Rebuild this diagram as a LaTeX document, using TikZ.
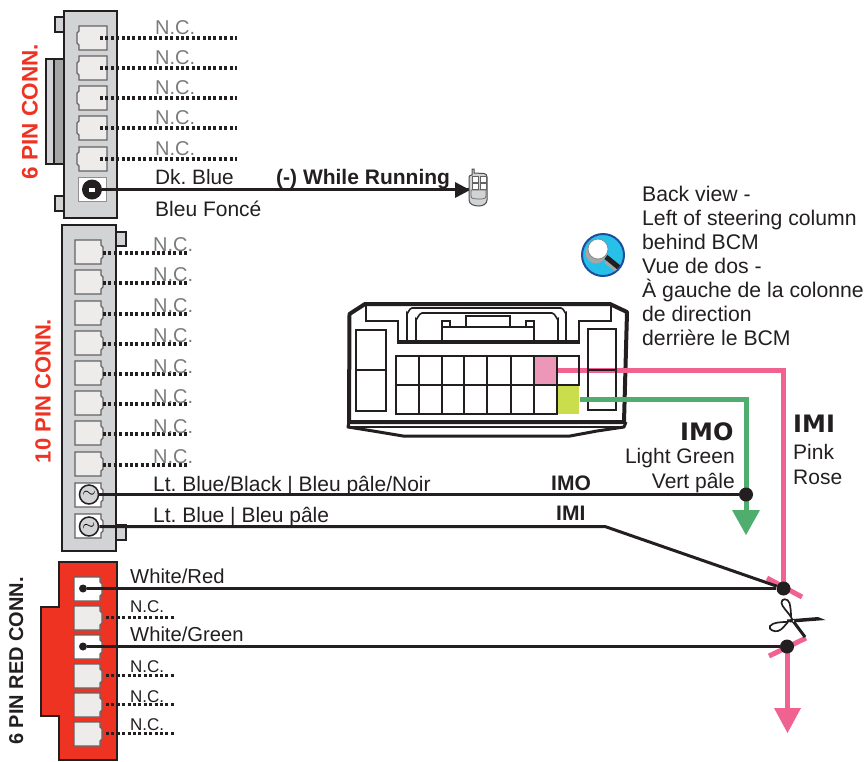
\documentclass[tikz,border=0pt]{standalone}
\usepackage{fontspec}
\setmainfont{Liberation Sans}
\newfontfamily\heavyfont{DejaVu Sans}
\frenchspacing
\definecolor{conngray}{HTML}{D1D3D4}
\definecolor{pingray}{HTML}{EDECEA}
\definecolor{ncgray}{HTML}{7A7C7C}
\definecolor{connred}{HTML}{EF3323}
\definecolor{wirepink}{HTML}{F0628F}
\definecolor{wiregreen}{HTML}{4FAE6E}
\definecolor{inkk}{HTML}{231F20}
\definecolor{pinkcell}{HTML}{EC97B8}
\definecolor{limecell}{HTML}{CADD4C}
\tikzset{
  x=1pt,y=-1pt,
  ink/.style={draw=inkk,line width=1.5pt},
  wire/.style={draw=inkk,line width=3pt},
  ncwire/.style={draw=inkk,line width=3.2pt,dash pattern=on 3pt off 2.4pt},
  pinkw/.style={draw=wirepink,line width=5pt},
  greenw/.style={draw=wiregreen,line width=5pt},
  lbl/.style={anchor=base west,inner sep=0pt,font=\fontsize{20.8}{24}\selectfont,text=inkk},
  lblb/.style={anchor=base west,inner sep=0pt,font=\fontsize{21}{24}\selectfont,text=inkk},
  nc/.style={anchor=base west,inner sep=0pt,font=\fontsize{20}{24}\selectfont,text=ncgray},
  ncs/.style={anchor=base west,inner sep=0pt,font=\fontsize{17}{20}\selectfont,text=inkk},
  boldl/.style={anchor=base west,inner sep=0pt,font=\fontsize{21}{24}\selectfont\bfseries,text=inkk},
  heavy/.style={anchor=base west,inner sep=0pt,font=\heavyfont\fontsize{24}{26}\selectfont\bfseries,text=inkk},
  dotn/.style={circle,fill=inkk,inner sep=0pt,minimum size=14pt},
  cline/.style={draw=inkk,line width=1.6pt},
  pics/pinR/.style={code={\draw[draw=inkk!70,line width=1.2pt,fill=#1] (-14,-12)--(12,-12)--(12,-7)--(14,-5)--(14,5)--(12,7)--(12,12)--(-14,12)--cycle;}},
  pics/pinL/.style={code={\draw[draw=inkk!70,line width=1.2pt,fill=#1] (15,-12)--(-13,-12)--(-13,-7)--(-15,-5)--(-15,5)--(-13,7)--(-13,12)--(15,12)--cycle;}},
}
\begin{document}
\begin{tikzpicture}
\useasboundingbox (0,0) rectangle (866,761);
% ---------- 6 PIN CONN
\draw[ink,fill=conngray] (46,59) rectangle (54,164);
\draw[ink,fill=black!35] (54,59) rectangle (64,164);
\draw[ink,fill=conngray] (55,17) rectangle (64,32);
\draw[ink,fill=conngray] (55,196) rectangle (64,211);
\draw[draw=inkk,line width=2pt,fill=conngray] (64,11) rectangle (117,218);
\foreach \i/\y in {1/38,2/68,3/98,4/128,5/159}{
  \pic at (92,\y) {pinL=pingray};
  \coordinate (a\i) at (100,\y);
  \coordinate (ae\i) at (237,\y);
  \draw[ncwire] (a\i) -- (ae\i);
  \node[nc] (anc\i) at (155,\y-4) {N.C.};
}
\draw[draw=inkk!50,line width=1pt,fill=white] (78,177) rectangle (106,201);
\node[circle,fill=inkk,inner sep=0pt,minimum size=20pt] (a6) at (92,189.5) {};
\fill[white] (89,188) rectangle (95,192);
\node[lbl] (dkblue) at (155,184) {Dk. Blue};
\node[lblb] (bleuf) at (155,216) {Bleu Foncé};
\node[boldl] (running) at (276,184) {(-) While Running};
\node[rotate=90,anchor=base,inner sep=0pt,font=\fontsize{22.5}{24}\selectfont\bfseries,text=connred] (t6) at (37.5,111.5) {6 PIN CONN.};
% remote
\coordinate (remote) at (469,189.5);
\draw[wire] (a6) -- (remote);
\fill[inkk] (455,182) -- (470,190) -- (455,198) -- cycle;
\draw[draw=inkk!80,line width=1pt,fill=conngray] (472,175) -- (472,169) -- (474,169) -- (474,173) -- (484,173.5) to[out=0,in=90] (487,177) -- (487,200) to[out=-90,in=0] (479,206) to[out=180,in=-90] (469,200) -- (469,177) to[out=90,in=180] (472,175) -- cycle;
\draw[draw=inkk!70,line width=.7pt,fill=white] (472,176) rectangle (478,182) (480,176) rectangle (486,182) (472,183) rectangle (478,189) (480,183) rectangle (486,189);
\draw[draw=inkk!70,line width=.7pt] (471,190) -- (486,190) -- (486,196) to[out=-90,in=0] (478,199) to[out=180,in=-90] (471,196) -- cycle;
% ---------- 10 PIN CONN
\draw[ink,fill=conngray] (116,232) rectangle (126,246);
\draw[ink,fill=conngray] (116,525) rectangle (126,540);
\draw[draw=inkk,line width=2pt,fill=conngray] (62,225) rectangle (116,551);
\foreach \i/\y/\b in {1/253/251,2/283/281,3/314/312,4/344/342,5/374/373,6/404/403,7/434/433,8/465/463}{
  \pic at (89,\y-1) {pinR=pingray};
  \coordinate (b\i) at (103,\y);
  \coordinate (be\i) at (187,\y);
  \draw[ncwire] (b\i) -- (be\i);
  \node[nc] (bnc\i) at (153,\b) {N.C.};
}
\pic at (89,495) {pinR=white};
\pic at (89,526) {pinR=white};
\node[circle,draw=inkk,line width=1.5pt,fill=conngray,minimum size=19pt,inner sep=0pt,font=\fontsize{17}{17}\selectfont] (b9) at (89,494.5) {$\sim$};
\node[circle,draw=inkk,line width=1.5pt,fill=conngray,minimum size=19pt,inner sep=0pt,font=\fontsize{17}{17}\selectfont] (b10) at (89,526.5) {\rotatebox{12}{$\sim$}};
\node[lbl,font=\fontsize{21}{24}\selectfont] (ltbb) at (153,491) {Lt. Blue/Black | Bleu pâle/Noir};
\node[lbl,font=\fontsize{21}{24}\selectfont] (ltb) at (153,522) {Lt. Blue | Bleu pâle};
\node[rotate=90,anchor=base,inner sep=0pt,font=\fontsize{22}{24}\selectfont\bfseries,text=connred] (t10) at (50.5,391) {10 PIN CONN.};
% ---------- 6 PIN RED
\draw[draw=inkk,line width=2pt,fill=connred] (59,562) -- (117,562) -- (117,760) -- (59,760) -- (59,716) -- (41,716) -- (41,607) -- (59,607) -- cycle;
\pic at (88,589) {pinR=white};
\pic at (88,647) {pinR=white};
\node[circle,fill=inkk,inner sep=0pt,minimum size=8pt] (c1) at (83,588.5) {};
\node[circle,fill=inkk,inner sep=0pt,minimum size=8pt] (c3) at (83,646.5) {};
\foreach \i/\y/\b in {2/618/612,4/676/672,5/705/702,6/734/730}{
  \pic at (88,\y) {pinR=pingray};
  \coordinate (c\i) at (106,\y-.5);
  \coordinate (ce\i) at (174,\y-.5);
  \draw[ncwire] (c\i) -- (ce\i);
  \node[ncs] (cnc\i) at (130,\b) {N.C.};
}
\node[lbl,font=\fontsize{20.2}{24}\selectfont] (wr) at (130,583) {White/Red};
\node[lbl,font=\fontsize{20.2}{24}\selectfont] (wg) at (130,641) {White/Green};
\node[rotate=90,anchor=base,inner sep=0pt,font=\fontsize{20}{24}\selectfont\bfseries,text=inkk] (t6r) at (23,661) {6 PIN RED CONN.};
% ---------- vehicle connector
\draw[draw=inkk,line width=4pt,line join=round] (349.5,314) -- (365,304) -- (610,304) -- (627,312) -- (624,422) -- (349,422) -- cycle;
\draw[draw=inkk,line width=3pt,line join=round] (349,422) -- (348,427) -- (373,431) -- (403,436) -- (570,436) -- (597,431) -- (624,427) -- (626,422);
\draw[draw=inkk,line width=2.5pt] (349,427) -- (625,427);
\draw[cline] (366,306) -- (366,321) -- (398,321) -- (398,342);
\draw[cline] (611,306) -- (611,321) -- (579,321) -- (579,342);
\draw[draw=inkk,line width=3.5pt] (397,342) -- (580,342);
\draw[cline] (407,341) -- (407,313) to[out=-90,in=180] (412,308) -- (561,308) to[out=0,in=-90] (566,313) -- (566,341);
\draw[cline] (416,341) -- (416,319) to[out=-90,in=180] (422,313) -- (552,313) to[out=0,in=-90] (558,319) -- (558,341);
\draw[cline] (442,341) -- (442,327) -- (534,327) -- (534,341);
\draw[cline] (442,321) rectangle (450,327);
\draw[cline] (526,321) rectangle (534,327);
\draw[cline] (466,316) rectangle (510,327);
\fill[pinkcell] (534,356) rectangle (557,385);
\fill[limecell] (557,385) rectangle (579,414);
\draw[pinkw] (557,370) -- (783,370) -- (783,588);
\coordinate (imiTop) at (783,588);
\draw[cline] (356,330) rectangle (386,411) (356,370) -- (386,370);
\draw[cline] (588,329) rectangle (616,410) (588,370) -- (616,370);
\draw[cline] (396,356) -- (579,356) -- (579,385) -- (396,385) -- cycle;
\draw[cline] (396,385) rectangle (557,414);
\foreach \x in {419,442,464,487,511,534}{\draw[cline] (\x,356) -- (\x,414);}
\draw[cline] (557,356) -- (557,414);
% ---------- green wire
\draw[greenw] (580,399.5) -- (746,399.5) -- (746,512);
\fill[wiregreen] (732,510) -- (760,510) -- (746,535) -- cycle;
% ---------- pink cut
\draw[pinkw,line width=5pt] (767,578) -- (802,597);
\draw[pinkw,line width=5pt] (769,656) -- (806,638);
\draw[pinkw] (787,646) -- (787,712);
\fill[wirepink] (774,708) -- (801,708) -- (787.5,733) -- cycle;
% ---------- wires with dots
\node[dotn] (imoDot) at (746,494.5) {};
\node[dotn] (imiDot) at (783.5,588.5) {};
\node[dotn] (wgDot) at (787,646.5) {};
\coordinate (bend) at (605,526.5);
\draw[wire] (b9) -- (imoDot);
\draw[wire] (b10) -- (bend) -- (imiDot);
\draw[wire] (c1) -- (imiDot);
\draw[wire] (c3) -- (wgDot);
% scissors
\fill[inkk] (787,619.5) -- (818,617) -- (825.5,620) -- (793,622.5) -- (787,622) -- cycle;
\draw[draw=inkk,line width=3pt] (793,621) -- (805,637);
\draw[draw=inkk,line width=1.7pt] (793,621) -- (791,617) .. controls (788,612) and (782,607) .. (781.5,603) .. controls (781,598) and (788,598) .. (789.5,603) .. controls (790.5,607) and (791,612) .. (791,617);
\draw[draw=inkk,line width=1.7pt] (788,622) .. controls (782,622) and (773,622) .. (770,626) .. controls (768,630) and (775,632) .. (778,631) .. controls (782,630) and (785,625) .. (788,622);
\fill[white] (793.5,621) circle[radius=.8];
% ---------- labels
\node[boldl] (imo1) at (551,490) {IMO};
\node[boldl] (imi1) at (556,520) {IMI};
\node[heavy] (imo2) at (680,440) {IMO};
\node[heavy] (imi2) at (793,432) {IMI};
\node[lblb,anchor=base east] (lg) at (735,463) {Light Green};
\node[lblb,anchor=base east] (vp) at (735,488) {Vert pâle};
\node[lblb] (pk) at (793,459) {Pink};
\node[lblb] (rs) at (793,484) {Rose};
\node[lblb,align=left,anchor=north west,font=\fontsize{21.2}{24}\selectfont] (back) at (642,185.5) {Back view -\\Left of steering column\\behind BCM\\Vue de dos -\\À gauche de la colonne\\de direction\\derrière le BCM};
% ---------- magnifier
\node[circle,draw={rgb,255:red,29;green,78;blue,158},line width=2pt,fill={rgb,255:red,38;green,192;blue,232},minimum size=42pt,inner sep=0pt] (lens) at (603,255) {};
\begin{scope}
\clip (603,255) circle[radius=20];
\fill[black!35] (596,253) circle[radius=10.5];
\draw[draw=black!35,line width=5pt] (606,261) -- (622,274);
\draw[draw=inkk,line width=5pt] (606,257) -- (622,270);
\fill[white] (598,249) circle[radius=10];
\draw[draw=black!45,line width=.8pt] (598,249) circle[radius=10];
\end{scope}
\end{tikzpicture}
\end{document}
